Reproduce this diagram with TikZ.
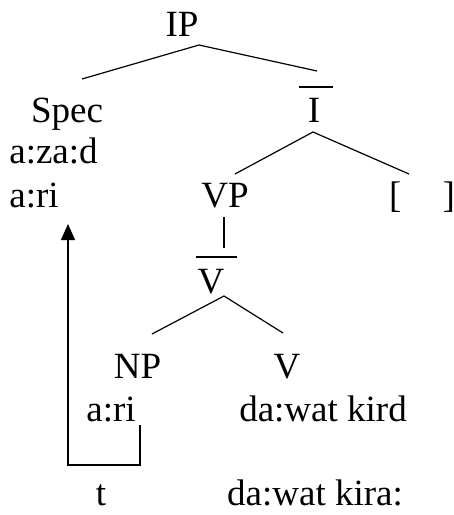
\documentclass[tikz,border=0pt]{standalone}
\usepackage{fontspec}
\setmainfont{Liberation Serif}
\usetikzlibrary{arrows.meta}
\begin{document}
\begin{tikzpicture}[x=1pt,y=-1pt,
  txt/.style={font=\fontsize{37}{40}\selectfont, inner sep=0pt, anchor=base},
  branch/.style={line width=1.2pt},
  move/.style={line width=1.2pt, -{Triangle[length=16pt,width=14pt]}}]
\useasboundingbox (0,0) rectangle (454,515);
% text nodes
\node[txt] (ip)   at (182,36)  {IP};
\node[txt] (spec) at (67,122)  {Spec};
\node[txt] (azad) at (53.5,163) {a:za:d};
\node[txt] (ari1) at (34,207)  {a:ri};
\node[txt] (ibar) at (314,122) {I};
\node[txt] (vp)   at (225,207) {VP};
\node[txt, anchor=base west] (infl) at (389,207) {[\hspace{41pt}]};
\node[txt] (vbar) at (211,293) {V};
\node[txt] (np)   at (137.5,378) {NP};
\node[txt] (v)    at (287,378) {V};
\node[txt] (ari2) at (111,421) {a:ri};
\node[txt] (kird) at (323,421) {da:wat kird};
\node[txt] (t)    at (101,505) {t};
\node[txt] (kira) at (315,505) {da:wat kira:};
% branch points
\coordinate (ipA) at (199,45);
\coordinate (specT) at (82,79);
\coordinate (ibarT) at (317,71);
\coordinate (ibarA) at (313,132);
\coordinate (vpT) at (235,174);
\coordinate (inflT) at (409,174);
\coordinate (vpB) at (224,217);
\coordinate (vbarT) at (224,248);
\coordinate (vbarA) at (224,296);
\coordinate (npT) at (152,334);
\coordinate (vT) at (283,333);
\coordinate (ibarL) at (299,87);
\coordinate (ibarR) at (333,87);
\coordinate (vbarL) at (196,257);
\coordinate (vbarR) at (237,257);
\coordinate (traceS) at (140,425);
\coordinate (traceC) at (140,465);
\coordinate (specC) at (68,465);
\coordinate (specB) at (68,224);
% branches
\draw[branch] (specT) -- (ipA) -- (ibarT);
\draw[branch] (vpT) -- (ibarA) -- (inflT);
\draw[branch] (vpB) -- (vbarT);
\draw[branch] (npT) -- (vbarA) -- (vT);
% bars
\draw[branch] (ibarL) -- (ibarR);
\draw[branch] (vbarL) -- (vbarR);
% movement
\draw[move] (traceS) -- (traceC) -- (specC) -- (specB);
\end{tikzpicture}
\end{document}
